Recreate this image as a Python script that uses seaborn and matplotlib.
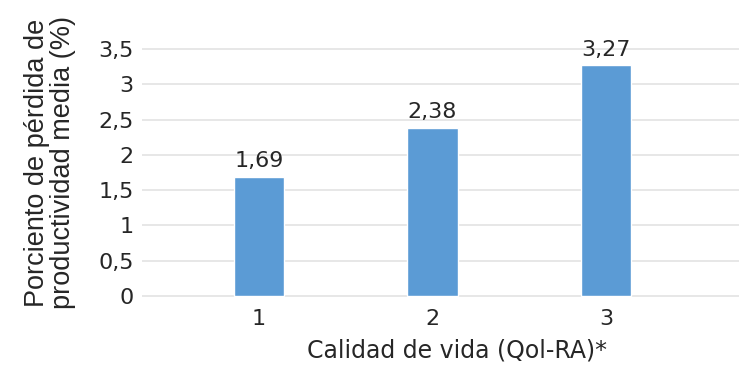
import matplotlib
matplotlib.use("Agg")
import matplotlib.pyplot as plt
import seaborn as sns
import pandas as pd

# Quality-of-life groups and mean productivity loss (%)
categorias = ["1", "2", "3"]
perdida = [1.69, 2.38, 3.27]
yticks = [0, 0.5, 1, 1.5, 2, 2.5, 3, 3.5]

sns.set_theme(style="white")
plt.rcParams["font.family"] = ["DejaVu Sans"]

df = pd.DataFrame({"calidad": categorias, "perdida": perdida})

fig = plt.figure(figsize=(7.39, 3.65), dpi=100)
ax = fig.add_axes([0.192, 0.1795, 0.808, 0.7057])

sns.barplot(data=df, x="calidad", y="perdida", color="#5B9BD5",
            width=0.29, saturation=1, ax=ax, zorder=3)

ax.set_xlim(-0.674, 2.767)
ax.set_ylim(-0.05, 3.6)
ax.set_yticks(yticks)
ax.set_yticklabels([("%g" % t).replace(".", ",") for t in yticks])
ax.yaxis.grid(True, color="#E3E3E3", linewidth=1.2, zorder=0)
ax.xaxis.grid(False)
for s in ax.spines.values():
    s.set_visible(False)
ax.tick_params(axis="y", length=0, pad=6, labelsize=16, colors="#262626")
ax.tick_params(axis="x", length=0, pad=7, labelsize=16, colors="#262626")

labels = [f"{v:.2f}".replace(".", ",") for v in perdida]
ax.bar_label(ax.containers[0], labels=labels, padding=4, fontsize=16,
             color="#262626")

ax.set_xlabel("Calidad de vida (Qol-RA)*", fontsize=17, color="#262626")
ax.xaxis.set_label_coords(0.528, -0.15)
ax.set_ylabel("Porciento de pérdida de\nproductividad media (%)",
              fontsize=19.5, color="#262626", linespacing=1.0,
              family=["Liberation Sans"])
ax.yaxis.set_label_coords(-0.11, 0.53)

fig.savefig("out.png", dpi=100)
